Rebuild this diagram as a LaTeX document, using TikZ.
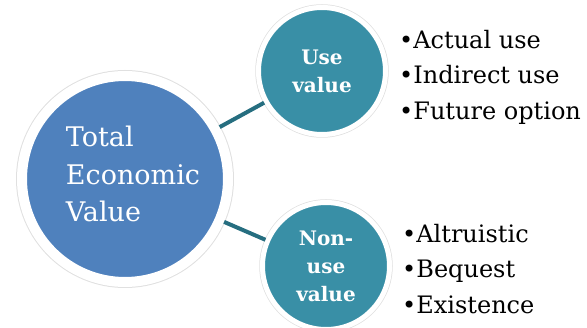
\documentclass[tikz,border=0pt]{standalone}
\usepackage{fontspec}
\setmainfont{DejaVu Serif}
\usetikzlibrary{positioning}
\definecolor{tevblue}{RGB}{79,129,189}
\definecolor{subteal}{RGB}{57,143,166}
\definecolor{linkteal}{RGB}{38,110,128}

\begin{document}
\begin{tikzpicture}[x=1pt,y=-1pt,
  bigc/.style={circle,fill=tevblue,draw=white,line width=10pt,minimum size=206pt,inner sep=0pt,
    preaction={draw=black!12,line width=12pt}},
  tevtext/.style={text=white,align=left,inner sep=0pt,font=\fontsize{27}{37.5}\selectfont},
  smallc/.style={circle,fill=subteal,draw=white,line width=5pt,minimum size=127pt,inner sep=0pt,
    preaction={draw=black!12,line width=6.5pt},text=white,align=center,
    font=\fontsize{20}{28}\selectfont\bfseries},
  items/.style={align=left,inner sep=0pt,font=\fontsize{24}{35.5}\selectfont},
  link/.style={line width=4pt,color=linkteal}]
  \useasboundingbox (0,0) rectangle (587,328);
  \node[bigc] (tev) at (125,179) {};
  \node[tevtext] (tevlabel) at ([xshift=8pt,yshift=5pt]tev.center) {Total\\Economic\\Value};
  \node[smallc] (use) at (322,71) {Use\\value};
  \node[smallc] (non) at (326,266) {Non-\\use\\value};
  \node[items,right=11pt of use,yshift=-6pt] (uselist) {\textbullet Actual use\\\textbullet Indirect use\\\textbullet Future option};
  \node[items,right=10pt of non,yshift=-3pt] (nonlist) {\textbullet Altruistic\\\textbullet Bequest\\\textbullet Existence};
  \draw[link] (tev) -- (use);
  \draw[link] (tev) -- (non);
\end{tikzpicture}
\end{document}
